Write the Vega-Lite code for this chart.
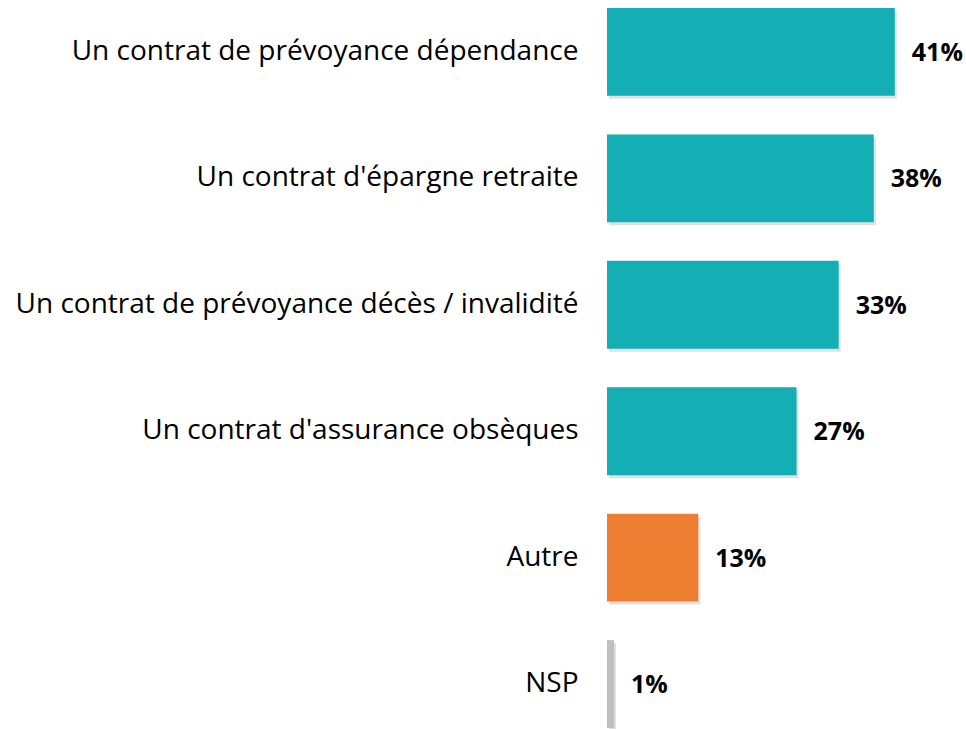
{
  "$schema": "https://vega.github.io/schema/vega-lite/v6.json",
  "autosize": {"type": "none"},
  "width": 351,
  "height": 720,
  "padding": {"left": 607, "top": 8, "right": 8, "bottom": 1},
  "background": "white",
  "config": {"view": {"stroke": null}, "font": "Open Sans"},
  "data": {"values": [
    {"label": "Un contrat de prévoyance dépendance", "value": 0.41, "group": "a"},
    {"label": "Un contrat d'épargne retraite", "value": 0.38, "group": "a"},
    {"label": "Un contrat de prévoyance décès / invalidité", "value": 0.33, "group": "a"},
    {"label": "Un contrat d'assurance obsèques", "value": 0.27, "group": "a"},
    {"label": "Autre", "value": 0.13, "group": "b"},
    {"label": "NSP", "value": 0.01, "group": "c"}
  ]},
  "encoding": {
    "y": {"field": "label", "type": "nominal", "sort": null,
      "scale": {"paddingInner": 0.305, "paddingOuter": 0},
      "axis": {"title": null, "domain": false, "ticks": false, "grid": false, "labelFontSize": 28, "labelColor": "#000000", "labelPadding": 29, "labelFont": "Open Sans", "labelLimit": 700}},
    "x": {"field": "value", "type": "quantitative", "scale": {"domain": [0, 0.5]}, "axis": null}
  },
  "layer": [
    {"mark": {"type": "bar", "color": "#000000", "opacity": 0.12, "xOffset": 2, "yOffset": 3},
     "encoding": {}},
    {"mark": {"type": "bar"},
     "encoding": {"color": {"field": "group", "type": "nominal", "legend": null,
       "scale": {"domain": ["a", "b", "c"], "range": ["#14AEB5", "#ED7D31", "#BFBFBF"]}}}},
    {"mark": {"type": "text", "align": "left", "dx": 17, "dy": 1, "fontWeight": "bold", "fontSize": 25, "font": "Open Sans", "color": "#000000"},
     "encoding": {"text": {"field": "value", "type": "quantitative", "format": ".0%"}}}
  ]
}
